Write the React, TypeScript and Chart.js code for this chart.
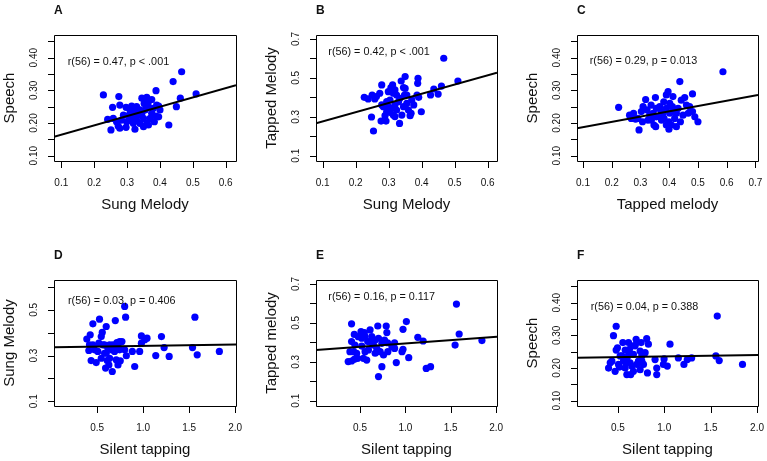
import { useEffect, useRef } from 'react';
import { Chart, registerables } from 'chart.js';
Chart.register(...registerables);

const FONT = '"Liberation Sans", Arial, Helvetica, sans-serif';

// ---------- Data ----------
const A_X = [0.228,0.275,0.256,0.241,0.251,0.273,0.278,0.297,0.297,0.289,0.314,0.324,0.317,0.329,0.339,0.345,0.360,0.375,0.352,0.365,0.360,0.388,0.396,0.400,0.388,0.383,0.365,0.427,0.440,0.450,0.462,0.466,0.510,0.314,0.306,0.334,0.350,0.268,0.345,0.375,0.319,0.283,0.309,0.329,0.370,0.278,0.339,0.396,0.258,0.355,0.306,0.390,0.314,0.365,0.324,0.299,0.350,0.380];
const A_Y = [0.286,0.281,0.248,0.211,0.179,0.191,0.255,0.187,0.248,0.224,0.252,0.181,0.219,0.209,0.240,0.276,0.279,0.272,0.260,0.250,0.199,0.299,0.252,0.240,0.221,0.204,0.194,0.194,0.327,0.250,0.276,0.357,0.289,0.230,0.209,0.224,0.214,0.204,0.230,0.230,0.199,0.209,0.240,0.250,0.214,0.184,0.199,0.219,0.214,0.240,0.224,0.255,0.209,0.265,0.235,0.204,0.189,0.245];

const B_X = [0.226,0.238,0.250,0.258,0.263,0.273,0.279,0.248,0.254,0.277,0.292,0.284,0.294,0.299,0.304,0.307,0.312,0.309,0.314,0.319,0.324,0.319,0.330,0.333,0.338,0.345,0.350,0.348,0.345,0.355,0.360,0.365,0.368,0.376,0.386,0.389,0.388,0.391,0.399,0.427,0.437,0.450,0.460,0.467,0.510,0.294,0.304,0.314,0.324,0.334,0.340,0.289,0.370,0.355,0.299,0.319,0.279,0.350];
const B_Y = [0.400,0.392,0.412,0.392,0.404,0.421,0.464,0.299,0.227,0.278,0.278,0.352,0.326,0.429,0.386,0.450,0.464,0.344,0.309,0.361,0.412,0.438,0.378,0.266,0.484,0.450,0.507,0.412,0.352,0.369,0.335,0.306,0.318,0.361,0.412,0.498,0.472,0.400,0.326,0.412,0.443,0.417,0.458,0.601,0.484,0.378,0.323,0.421,0.335,0.395,0.309,0.306,0.386,0.412,0.352,0.301,0.361,0.446];

const C_X = [0.224,0.262,0.276,0.283,0.295,0.307,0.309,0.318,0.323,0.332,0.337,0.347,0.352,0.355,0.353,0.367,0.373,0.381,0.382,0.390,0.396,0.399,0.399,0.408,0.402,0.413,0.411,0.419,0.425,0.437,0.439,0.442,0.448,0.454,0.460,0.466,0.481,0.481,0.489,0.500,0.587,0.425,0.390,0.373,0.355,0.326,0.303,0.291,0.344,0.413,0.431,0.390,0.379,0.338,0.471,0.268,0.367,0.402];
const C_Y = [0.248,0.224,0.230,0.212,0.179,0.204,0.250,0.272,0.240,0.224,0.255,0.194,0.278,0.245,0.189,0.219,0.235,0.265,0.214,0.286,0.296,0.204,0.181,0.194,0.230,0.281,0.250,0.214,0.230,0.327,0.204,0.270,0.224,0.278,0.255,0.230,0.289,0.235,0.219,0.204,0.357,0.189,0.194,0.209,0.219,0.209,0.235,0.214,0.230,0.240,0.245,0.245,0.230,0.209,0.250,0.214,0.250,0.260];

const D_X = [0.387,0.424,0.409,0.453,0.434,0.471,0.489,0.525,0.518,0.544,0.555,0.562,0.580,0.598,0.591,0.609,0.616,0.627,0.664,0.671,0.697,0.707,0.715,0.726,0.744,0.751,0.769,0.799,0.809,0.799,0.817,0.882,0.908,0.962,0.981,0.981,1.017,1.042,1.137,1.199,1.228,1.283,1.537,1.563,1.588,1.829,0.507,0.635,0.689,0.453,0.580,0.653,0.726,0.544,0.416,0.635,0.744,0.598];
const D_Y = [0.372,0.391,0.322,0.439,0.278,0.325,0.269,0.459,0.354,0.288,0.401,0.347,0.310,0.427,0.245,0.278,0.332,0.259,0.230,0.347,0.453,0.281,0.357,0.259,0.361,0.277,0.361,0.515,0.468,0.325,0.299,0.318,0.252,0.318,0.386,0.354,0.369,0.376,0.300,0.383,0.335,0.296,0.335,0.468,0.303,0.318,0.318,0.347,0.318,0.347,0.347,0.325,0.342,0.383,0.347,0.288,0.325,0.310];

const E_X = [0.407,0.437,0.407,0.370,0.407,0.437,0.430,0.463,0.481,0.511,0.519,0.548,0.537,0.556,0.574,0.585,0.611,0.611,0.648,0.667,0.696,0.704,0.704,0.722,0.741,0.759,0.741,0.789,0.796,0.804,0.807,0.881,0.881,0.900,0.963,0.974,0.974,1.011,1.037,1.137,1.196,1.230,1.278,1.548,1.563,1.593,1.844,0.630,0.519,0.593,0.685,0.474,0.389,0.667,0.852,0.444,0.556,0.770];
const E_Y = [0.495,0.441,0.404,0.301,0.304,0.313,0.352,0.344,0.429,0.455,0.421,0.450,0.318,0.352,0.309,0.404,0.464,0.404,0.386,0.412,0.484,0.421,0.224,0.352,0.275,0.335,0.395,0.484,0.450,0.398,0.352,0.398,0.369,0.296,0.352,0.364,0.467,0.507,0.321,0.426,0.407,0.266,0.275,0.386,0.597,0.443,0.409,0.429,0.381,0.361,0.369,0.318,0.352,0.344,0.378,0.386,0.429,0.412];

const F_X = [0.400,0.436,0.453,0.482,0.471,0.482,0.496,0.518,0.543,0.554,0.579,0.589,0.597,0.615,0.625,0.639,0.650,0.668,0.686,0.697,0.722,0.740,0.751,0.758,0.776,0.811,0.829,0.819,0.901,0.919,0.998,0.991,1.033,1.062,1.152,1.212,1.248,1.295,1.556,1.571,1.592,1.843,0.561,0.632,0.704,0.740,0.525,0.794,0.597,0.418,0.650,0.579,0.704,0.507,0.919,0.668,0.615,0.758];
const F_Y = [0.200,0.221,0.299,0.328,0.190,0.255,0.262,0.203,0.237,0.278,0.255,0.216,0.180,0.239,0.257,0.180,0.206,0.242,0.268,0.288,0.221,0.195,0.278,0.237,0.211,0.290,0.273,0.185,0.226,0.180,0.228,0.211,0.206,0.273,0.231,0.211,0.226,0.231,0.237,0.359,0.223,0.211,0.221,0.216,0.211,0.252,0.237,0.247,0.231,0.216,0.268,0.200,0.278,0.211,0.200,0.190,0.278,0.221];

// regression lines: [intercept, slope]
const A_FIT = [0.1355, 0.286];
const B_FIT = [0.2294, 0.472];
const C_FIT = [0.1709, 0.162];
const D_FIT = [0.3363, 0.0059];
const E_FIT = [0.3606, 0.0339];
const F_FIT = [0.2311, 0.0043];

const STATS = [
  'r(56) = 0.47, p < .001',
  'r(56) = 0.42, p < .001',
  'r(56) = 0.29, p = 0.013',
  'r(56) = 0.03, p = 0.406',
  'r(56) = 0.16, p = 0.117',
  'r(56) = 0.04, p = 0.388',
];
const LETTERS = ['A', 'B', 'C', 'D', 'E', 'F'];
const X_TITLES = ['Sung Melody', 'Sung Melody', 'Tapped melody', 'Silent tapping', 'Silent tapping', 'Silent tapping'];
const Y_TITLES = ['Speech', 'Tapped Melody', 'Speech', 'Sung Melody', 'Tapped melody', 'Speech'];

// tick values and labels
const SUNG_TICKS = [0.1, 0.2, 0.3, 0.4, 0.5, 0.6];
const SUNG_LABELS = ['0.1', '0.2', '0.3', '0.4', '0.5', '0.6'];
const TAPX_TICKS = [0.1, 0.2, 0.3, 0.4, 0.5, 0.6, 0.7];
const TAPX_LABELS = ['0.1', '0.2', '0.3', '0.4', '0.5', '0.6', '0.7'];
const SIL_TICKS = [0.5, 1.0, 1.5, 2.0];
const SIL_LABELS = ['0.5', '1.0', '1.5', '2.0'];
const SPEECH_TICKS = [0.10, 0.15, 0.20, 0.25, 0.30, 0.35, 0.40, 0.45];
const SPEECH_LABELS = ['0.10', '', '0.20', '', '0.30', '', '0.40', ''];
const TAP_TICKS = [0.1, 0.2, 0.3, 0.4, 0.5, 0.6, 0.7];
const TAP_LABELS = ['0.1', '', '0.3', '', '0.5', '', '0.7'];
const SUNGY_TICKS = [0.1, 0.2, 0.3, 0.4, 0.5, 0.6];
const SUNGY_LABELS = ['0.1', '', '0.3', '', '0.5', ''];

// axis ranges
const A_XR = [0.0778, 0.6313]; const A_YR = [0.0838, 0.4695];
const B_XR = [0.0797, 0.6285]; const B_YR = [0.0727, 0.7206];
const C_XR = [0.0791, 0.709];  const C_YR = [0.0838, 0.4695];
const D_XR = [0.03, 2.01];     const D_YR = [0.079, 0.6307];
const E_XR = [0.015, 2.01];    const E_YR = [0.0727, 0.7206];
const F_XR = [0.06, 2.01];     const F_YR = [0.0838, 0.4695];

// ---------- Layout (page pixels) ----------
const BOXES = [
  [54, 35, 236, 161], [316, 35, 497, 161], [577, 35, 758, 161],
  [54, 280, 236, 406], [316, 280, 497, 406], [577, 280, 758, 406],
];
const STAT_POS = [[13.7, 26.7], [12.3, 16.7], [12.7, 26], [14, 20.7], [12.3, 16.7], [13.7, 26.7]];

const PANELS = [
  { xs: A_X, ys: A_Y, fit: A_FIT, xr: A_XR, yr: A_YR, xt: SUNG_TICKS, xl: SUNG_LABELS, yt: SPEECH_TICKS, yl: SPEECH_LABELS },
  { xs: B_X, ys: B_Y, fit: B_FIT, xr: B_XR, yr: B_YR, xt: SUNG_TICKS, xl: SUNG_LABELS, yt: TAP_TICKS, yl: TAP_LABELS },
  { xs: C_X, ys: C_Y, fit: C_FIT, xr: C_XR, yr: C_YR, xt: TAPX_TICKS, xl: TAPX_LABELS, yt: SPEECH_TICKS, yl: SPEECH_LABELS },
  { xs: D_X, ys: D_Y, fit: D_FIT, xr: D_XR, yr: D_YR, xt: SIL_TICKS, xl: SIL_LABELS, yt: SUNGY_TICKS, yl: SUNGY_LABELS },
  { xs: E_X, ys: E_Y, fit: E_FIT, xr: E_XR, yr: E_YR, xt: SIL_TICKS, xl: SIL_LABELS, yt: TAP_TICKS, yl: TAP_LABELS },
  { xs: F_X, ys: F_Y, fit: F_FIT, xr: F_XR, yr: F_YR, xt: SIL_TICKS, xl: SIL_LABELS, yt: SPEECH_TICKS, yl: SPEECH_LABELS },
].map((p, i) => ({ ...p, letter: LETTERS[i], stat: STATS[i], xTitle: X_TITLES[i], yTitle: Y_TITLES[i], box: BOXES[i], statPos: STAT_POS[i] }));

const W = 767, H = 461;
const Y_AXIS_W = 54, X_AXIS_H = 53;
const TICK_SIZE = 10;
const TICK_LEN = 6;
const INK = '#111';
const LINE = '#000';

function widestLabel(labels: string[]) {
  const ctx = document.createElement('canvas').getContext('2d')!;
  ctx.font = `${TICK_SIZE}px ${FONT}`;
  return Math.max(...labels.map((l) => ctx.measureText(l).width));
}

function Panel({ p }: { p: any }) {
  const ref = useRef<HTMLCanvasElement>(null);
  useEffect(() => {
    const [L, T, R, B] = p.box;
    const yPad = 12 - widestLabel(p.yl) / 2;
    const zeroPad = (s: any) => { s.paddingLeft = 0; s.paddingRight = 0; s.paddingTop = 0; s.paddingBottom = 0; };
    const fitY = (x: number) => p.fit[0] + p.fit[1] * x;
    const decor = {
      id: 'decor' + p.letter,
      afterDraw(chart: any) {
        const ctx = chart.ctx as CanvasRenderingContext2D;
        const ca = chart.chartArea;
        const l = Math.round(ca.left), t = Math.round(ca.top);
        const r = Math.round(ca.right), b = Math.round(ca.bottom);
        const xMin = p.xr[0], xMax = p.xr[1], yMin = p.yr[0], yMax = p.yr[1];
        ctx.save();
        ctx.setTransform(1, 0, 0, 1, 0, 0);
        ctx.globalAlpha = 1;
        ctx.lineWidth = 1;
        ctx.strokeStyle = LINE;
        ctx.setLineDash([]);
        ctx.beginPath();
        ctx.rect(l + 0.5, t + 0.5, r - l, b - t);
        for (let i = 0; i < p.xt.length; i++) {
          const px = Math.round(l + ((p.xt[i] - xMin) / (xMax - xMin)) * (r - l)) + 0.5;
          ctx.moveTo(px, b + 1);
          ctx.lineTo(px, b + 1 + TICK_LEN);
        }
        for (let i = 0; i < p.yt.length; i++) {
          const py = Math.round(b - ((p.yt[i] - yMin) / (yMax - yMin)) * (b - t)) + 0.5;
          ctx.moveTo(l, py);
          ctx.lineTo(l - TICK_LEN, py);
        }
        ctx.stroke();
        ctx.fillStyle = INK;
        ctx.font = `bold 12px ${FONT}`;
        ctx.textAlign = 'left';
        ctx.textBaseline = 'alphabetic';
        ctx.fillText(p.letter, l, t - 21);
        ctx.font = `10.8px ${FONT}`;
        ctx.textBaseline = 'middle';
        ctx.fillText(p.stat, l + p.statPos[0], t + p.statPos[1]);
        ctx.restore();
      },
    };
    const chart = new Chart(ref.current!, {
      type: 'scatter',
      data: {
        datasets: [
          {
            type: 'line',
            data: [{ x: p.xr[0], y: fitY(p.xr[0]) }, { x: p.xr[1], y: fitY(p.xr[1]) }],
            borderColor: '#000',
            borderWidth: 2,
            pointRadius: 0,
            fill: false,
            order: 0,
          } as any,
          {
            data: p.xs.map((x: number, i: number) => ({ x, y: p.ys[i] })),
            backgroundColor: '#0000ff',
            borderWidth: 0,
            pointRadius: 3.6,
            order: 1,
          },
        ],
      },
      options: {
        responsive: false,
        animation: false,
        events: [],
        layout: { padding: { left: L - Y_AXIS_W, top: T, right: W - R, bottom: H - B - X_AXIS_H } },
        plugins: {
          legend: { display: false },
          tooltip: { enabled: false },
        },
        scales: {
          x: {
            type: 'linear',
            position: 'bottom',
            min: p.xr[0],
            max: p.xr[1],
            afterBuildTicks: (s: any) => { s.ticks = p.xt.map((v: number) => ({ value: v })); },
            afterFit: (s: any) => { s.height = X_AXIS_H; zeroPad(s); },
            ticks: {
              callback: (_v: any, i: number) => p.xl[i],
              font: { family: FONT, size: TICK_SIZE },
              color: INK,
              padding: 8,
              autoSkip: false,
              maxRotation: 0,
              minRotation: 0,
            },
            grid: { display: false },
            border: { display: false },
            title: { display: true, text: p.xTitle, font: { family: FONT, size: 15 }, color: INK, padding: { top: 0, bottom: 0.5 } },
          },
          y: {
            type: 'linear',
            position: 'left',
            min: p.yr[0],
            max: p.yr[1],
            afterBuildTicks: (s: any) => { s.ticks = p.yt.map((v: number) => ({ value: v })); },
            afterFit: (s: any) => { s.width = Y_AXIS_W; zeroPad(s); },
            ticks: {
              callback: (_v: any, i: number) => p.yl[i],
              font: { family: FONT, size: TICK_SIZE },
              color: INK,
              padding: yPad,
              autoSkip: false,
              minRotation: 90,
              maxRotation: 90,
              crossAlign: 'center',
            },
            grid: { display: false },
            border: { display: false },
            title: { display: true, text: p.yTitle, font: { family: FONT, size: 15 }, color: INK, padding: { top: 0.5, bottom: 0 } },
          },
        },
      } as any,
      plugins: [decor],
    });
    return () => chart.destroy();
  }, [p]);
  return <canvas ref={ref} width={W} height={H} style={{ position: 'absolute', left: 0, top: 0, width: W, height: H }} />;
}

export default function App() {
  return (
    <div style={{ position: 'absolute', left: 0, top: 0, width: W, height: H, background: '#fff', overflow: 'hidden' }}>
      {PANELS.map((p, i) => (
        <Panel key={i} p={p} />
      ))}
    </div>
  );
}
